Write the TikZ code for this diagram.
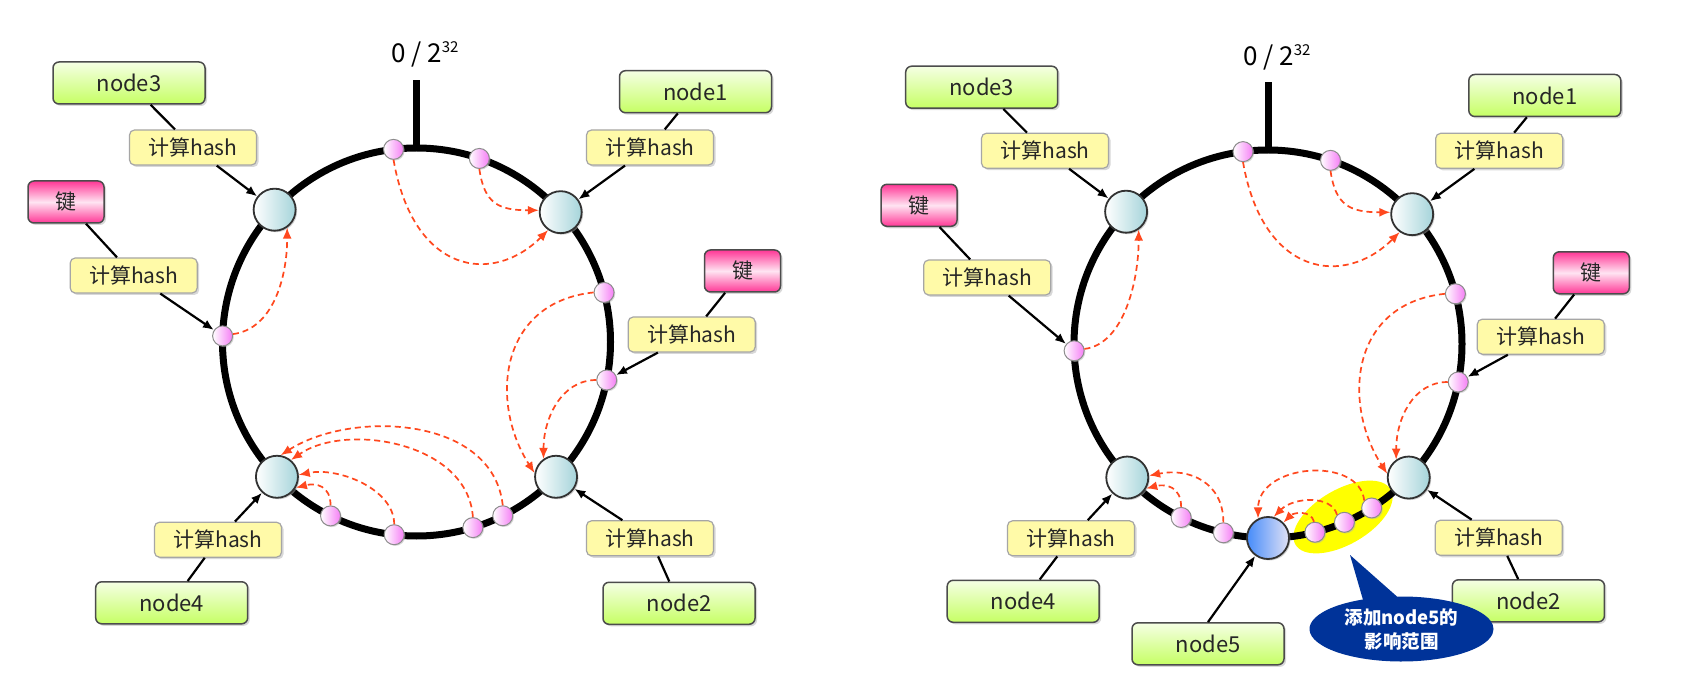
\documentclass[tikz,border=0pt]{standalone}
\usepackage{fontspec}
\setmainfont{Noto Sans CJK SC}
\usetikzlibrary{arrows.meta,shapes.geometric,shapes.callouts,shadows,calc}

\definecolor{ringedge}{RGB}{50,50,50}
\definecolor{bigright}{RGB}{165,212,218}
\definecolor{dotright}{RGB}{245,125,245}
\definecolor{greentop}{RGB}{245,255,228}
\definecolor{greenbot}{RGB}{198,255,100}
\definecolor{hashfill}{RGB}{255,250,168}
\definecolor{pinkedge}{RGB}{255,55,150}
\definecolor{pinkmid}{RGB}{255,228,242}
\definecolor{redarr}{RGB}{255,72,30}
\definecolor{calloutblue}{RGB}{0,51,153}
\definecolor{nfiveleft}{RGB}{70,140,250}
\definecolor{nfiveright}{RGB}{225,225,245}
\definecolor{hilite}{RGB}{255,255,0}

\tikzset{
  ringline/.style={line width=7pt, black},
  tickline/.style={line width=7pt, black},
  bignode/.style={circle, draw=ringedge, line width=1.8pt, minimum size=42pt, inner sep=0pt,
    left color=white, right color=bigright,
    drop shadow={shadow xshift=1.5pt, shadow yshift=-1.5pt, fill=black!35}},
  newnode/.style={bignode, left color=nfiveleft, right color=nfiveright},
  hdot/.style={circle, draw=black!45, line width=1pt, minimum size=20pt, inner sep=0pt,
    left color=white, right color=dotright,
    drop shadow={shadow xshift=1.2pt, shadow yshift=-1.2pt, fill=black!30}},
  namebox/.style={rectangle, rounded corners=6pt, draw=black!70, line width=1.5pt,
    minimum width=152pt, minimum height=42pt, inner sep=0pt,
    top color=greentop, bottom color=greenbot, text=black!85,
    font=\fontsize{22}{24}\selectfont,
    drop shadow={shadow xshift=2pt, shadow yshift=-2pt, fill=black!30}},
  hashbox/.style={rectangle, rounded corners=5pt, draw=black!35, line width=1.2pt,
    fill=hashfill, minimum width=127pt, minimum height=35pt, inner sep=0pt, text=black!85,
    font=\fontsize{21}{24}\selectfont,
    drop shadow={shadow xshift=2pt, shadow yshift=-2pt, fill=black!30}},
  keybox/.style={rectangle, rounded corners=6pt, draw=black!70, line width=1.5pt,
    minimum width=76pt, minimum height=42pt, inner sep=0pt, text=black!85,
    top color=pinkedge, bottom color=pinkedge, middle color=pinkmid,
    font=\fontsize{21}{24}\selectfont,
    drop shadow={shadow xshift=2pt, shadow yshift=-2pt, fill=black!30}},
  conn/.style={line width=2.2pt, black},
  connarr/.style={conn, -{Latex[length=11pt,width=9pt]}},
  hasharr/.style={line width=1.7pt, redarr, dash pattern=on 6pt off 4pt,
    -{Latex[length=11pt,width=9pt]}},
  zerolabel/.style={font=\fontsize{26}{28}\selectfont, inner sep=0pt, anchor=base west}
}

\begin{document}
\begin{tikzpicture}[x=1pt,y=-1pt]
\useasboundingbox (0,0) rectangle (1682,700);
\fill[white] (0,0) rectangle (1682,700);

% ================= LEFT RING =================
\coordinate (CL) at (416.5,342);
\draw[ringline] (CL) circle[radius=194];
\draw[tickline] (416.5,150) -- (416.5,80);
\node[zerolabel] (zeroL) at (391,63) {0 / 2\raisebox{10pt}{\fontsize{15}{15}\selectfont 32}};

\path (CL) ++({194*cos(137)},{-194*sin(137)}) node[bignode] (N3L) {};
\path (CL) ++({194*cos(42)},{-194*sin(42)}) node[bignode] (N1L) {};
\path (CL) ++({194*cos(224)},{-194*sin(224)}) node[bignode] (N4L) {};
\path (CL) ++({194*cos(-44)},{-194*sin(-44)}) node[bignode] (N2L) {};

\path (CL) ++({194*cos(96.8)},{-194*sin(96.8)}) node[hdot] (L1) {};
\path (CL) ++({194*cos(71.1)},{-194*sin(71.1)}) node[hdot] (L2) {};
\path (CL) ++({194*cos(14.8)},{-194*sin(14.8)}) node[hdot] (L3) {};
\path (CL) ++({194*cos(-11.3)},{-194*sin(-11.3)}) node[hdot] (L4) {};
\path (CL) ++({194*cos(-63.6)},{-194*sin(-63.6)}) node[hdot] (L5) {};
\path (CL) ++({194*cos(-73.1)},{-194*sin(-73.1)}) node[hdot] (L6) {};
\path (CL) ++({194*cos(-96.6)},{-194*sin(-96.6)}) node[hdot] (L7) {};
\path (CL) ++({194*cos(-116.3)},{-194*sin(-116.3)}) node[hdot] (L8) {};
\path (CL) ++({194*cos(178.2)},{-194*sin(178.2)}) node[hdot] (L9) {};

% labels left
\node[namebox] (n3L) at (129,83) {node3};
\node[hashbox] (h3L) at (193,147.5) {计算hash};
\node[keybox] (kLL) at (66,202) {键};
\node[hashbox] (hkLL) at (133.7,275.5) {计算hash};
\node[namebox] (n1L) at (695.5,91.7) {node1};
\node[hashbox] (h1L) at (650,147.5) {计算hash};
\node[keybox] (kRL) at (742.5,271) {键};
\node[hashbox] (hkRL) at (691.7,334.5) {计算hash};
\node[namebox] (n2L) at (679,603.3) {node2};
\node[hashbox] (h2L) at (650,538.3) {计算hash};
\node[namebox] (n4L) at (171.7,602.8) {node4};
\node[hashbox] (h4L) at (218,539.7) {计算hash};

\draw[conn] (n3L) -- (h3L);  \draw[connarr] (h3L) -- (N3L);
\draw[conn] (kLL) -- (hkLL); \draw[connarr] (hkLL) -- (L9);
\draw[conn] (n1L) -- (h1L);  \draw[connarr] (h1L) -- (N1L);
\draw[conn] (kRL) -- (hkRL); \draw[connarr] (hkRL) -- (L4);
\draw[conn] (n2L) -- (h2L);  \draw[connarr] (h2L) -- (N2L);
\draw[conn] (n4L) -- (h4L);  \draw[connarr] (h4L) -- (N4L);

% dashed mapping arrows left
\draw[hasharr] (L9.10) .. controls +(40,-5) and +(0,50) .. (N3L.-55);
\draw[hasharr] (L1.-90) .. controls +(20,115) and +(-55,55) .. (N1L.-125);
\draw[hasharr] (L2.-90) .. controls +(5,35) and +(-40,0) .. (N1L.175);
\draw[hasharr] (L3.180) .. controls +(-95,10) and +(-45,-70) .. (N2L.170);
\draw[hasharr] (L4.180) .. controls +(-35,0) and +(0,-40) .. (N2L.125);
\draw[hasharr] (L5.90) .. controls +(-10,-90) and +(70,-45) .. (N4L.80);
\draw[hasharr] (L6.90) .. controls +(-5,-75) and +(55,-38) .. (N4L.50);
\draw[hasharr] (L7.90) .. controls +(0,-35) and +(40,-8) .. (N4L.5);
\draw[hasharr] (L8.90) .. controls +(0,-20) and +(20,-5) .. (N4L.-30);

% ================= RIGHT RING =================
\coordinate (CR) at (1268,344);
\node[ellipse, fill=hilite, minimum width=110pt, minimum height=55pt, inner sep=0pt, rotate=30] (hl) at (1343,517) {};
\draw[ringline] (CR) circle[radius=194];
\draw[tickline] (1268,152) -- (1268,82);
\node[zerolabel] (zeroR) at (1243,66) {0 / 2\raisebox{10pt}{\fontsize{15}{15}\selectfont 32}};

\path (CR) ++({194*cos(137)},{-194*sin(137)}) node[bignode] (N3R) {};
\path (CR) ++({194*cos(42)},{-194*sin(42)}) node[bignode] (N1R) {};
\path (CR) ++({194*cos(223.5)},{-194*sin(223.5)}) node[bignode] (N4R) {};
\path (CR) ++({194*cos(-43.5)},{-194*sin(-43.5)}) node[bignode] (N2R) {};
\path (CR) ++({194*cos(-90)},{-194*sin(-90)}) node[newnode] (N5R) {};

\path (CR) ++({194*cos(97.4)},{-194*sin(97.4)}) node[hdot] (R1) {};
\path (CR) ++({194*cos(71.2)},{-194*sin(71.2)}) node[hdot] (R2) {};
\path (CR) ++({194*cos(15)},{-194*sin(15)}) node[hdot] (R3) {};
\path (CR) ++({194*cos(-11.3)},{-194*sin(-11.3)}) node[hdot] (R4) {};
\path (CR) ++({194*cos(-57.7)},{-194*sin(-57.7)}) node[hdot] (R5) {};
\path (CR) ++({194*cos(-66.8)},{-194*sin(-66.8)}) node[hdot] (R6) {};
\path (CR) ++({194*cos(-76)},{-194*sin(-76)}) node[hdot] (R7) {};
\path (CR) ++({194*cos(-103.3)},{-194*sin(-103.3)}) node[hdot] (R8) {};
\path (CR) ++({194*cos(-116.6)},{-194*sin(-116.6)}) node[hdot] (R9) {};
\path (CR) ++({194*cos(182)},{-194*sin(182)}) node[hdot] (R10) {};

% labels right
\node[namebox] (n3R) at (981.7,87.2) {node3};
\node[hashbox] (h3R) at (1045,150.7) {计算hash};
\node[keybox] (kLR) at (919,205.3) {键};
\node[hashbox] (hkLR) at (987.2,277.5) {计算hash};
\node[namebox] (n1R) at (1544.8,95.5) {node1};
\node[hashbox] (h1R) at (1499.2,150.8) {计算hash};
\node[keybox] (kRR) at (1591.3,272.8) {键};
\node[hashbox] (hkRR) at (1540.8,336.7) {计算hash};
\node[namebox] (n2R) at (1528.4,600.8) {node2};
\node[hashbox] (h2R) at (1498.7,537.8) {计算hash};
\node[namebox] (n4R) at (1023.2,601.3) {node4};
\node[hashbox] (h4R) at (1071,538.3) {计算hash};
\node[namebox] (n5R) at (1208,643.8) {node5};

\draw[conn] (n3R) -- (h3R);  \draw[connarr] (h3R) -- (N3R);
\draw[conn] (kLR) -- (hkLR); \draw[connarr] (hkLR) -- (R10);
\draw[conn] (n1R) -- (h1R);  \draw[connarr] (h1R) -- (N1R);
\draw[conn] (kRR) -- (hkRR); \draw[connarr] (hkRR) -- (R4);
\draw[conn] (n2R) -- (h2R);  \draw[connarr] (h2R) -- (N2R);
\draw[conn] (n4R) -- (h4R);  \draw[connarr] (h4R) -- (N4R);
\draw[connarr] (n5R.north) -- (N5R);

% dashed mapping arrows right
\draw[hasharr] (R10.10) .. controls +(40,-5) and +(0,50) .. (N3R.-55);
\draw[hasharr] (R1.-90) .. controls +(20,115) and +(-55,55) .. (N1R.-125);
\draw[hasharr] (R2.-90) .. controls +(5,35) and +(-40,0) .. (N1R.175);
\draw[hasharr] (R3.180) .. controls +(-95,10) and +(-45,-70) .. (N2R.170);
\draw[hasharr] (R4.180) .. controls +(-35,0) and +(0,-40) .. (N2R.125);
\draw[hasharr] (R8.90) .. controls +(0,-40) and +(40,-8) .. (N4R.5);
\draw[hasharr] (R9.90) .. controls +(0,-20) and +(20,-5) .. (N4R.-30);
\draw[hasharr] (R5.135) .. controls +(-5,-45) and +(0,-55) .. (N5R.117);
\draw[hasharr] (R6.135) .. controls +(-5,-20) and +(20,-20) .. (N5R.75);
\draw[hasharr] (R7.95) .. controls +(-3,-12) and +(10,-10) .. (N5R.45);

% callout
\node[ellipse callout, fill=calloutblue, minimum width=184pt, minimum height=65pt, inner sep=0pt,
  callout absolute pointer={(1350,555)}, callout pointer arc=22, text=white,
  font=\bfseries\fontsize{18.5}{24}\selectfont, align=center] (co) at (1401.5,629)
  {添加node5的\\影响范围};
\end{tikzpicture}
\end{document}
